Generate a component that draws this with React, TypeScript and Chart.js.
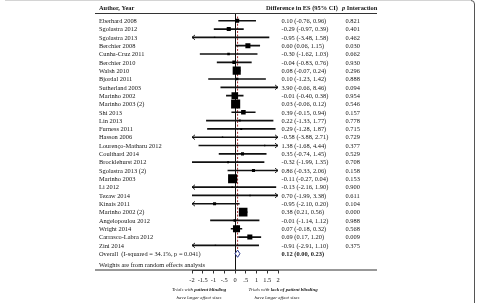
import React, { useEffect, useRef } from 'react';
import { Chart, registerables } from 'chart.js';

Chart.register(...registerables);

// ---------- data ----------
const authors = [
  'Eberhard 2008', 'Sgolastra 2012', 'Sgolastra 2013', 'Berchier 2008', 'Cunha-Cruz 2011',
  'Berchier 2010', 'Walsh 2010', 'Bjordal 2011', 'Sutherland 2003', 'Marinho 2002',
  'Marinho 2003 (2)', 'Shi 2013', 'Lin 2013', 'Furness 2011', 'Hasson 2006',
  'Lourenço-Matharu 2012', 'Coulthard 2014', 'Brocklehurst 2012', 'Sgolastra 2013 (2)', 'Marinho 2003',
  'Li 2012', 'Tezaw 2014', 'Kinais 2011', 'Marinho 2002 (2)', 'Angelopoulou 2012',
  'Wright 2014', 'Carrasco-Labra 2012', 'Zini 2014',
];
const effect = [
  0.10, -0.29, -0.95, 0.60, -0.30, -0.04, 0.08, 0.10, 3.90, -0.01,
  0.03, 0.39, 0.22, 0.29, -0.58, 1.38, 0.35, -0.32, 0.86, -0.11,
  -0.13, 0.70, -0.95, 0.38, -0.01, 0.07, 0.69, -0.91,
];
const lower = [
  -0.76, -0.97, -3.48, 0.06, -1.62, -0.83, -0.07, -1.23, -0.66, -0.40,
  -0.06, -0.15, -1.33, -1.28, -3.88, -1.68, -0.74, -1.99, -0.33, -0.27,
  -2.16, -1.99, -2.10, 0.21, -1.14, -0.18, 0.17, -2.91,
];
const upper = [
  0.96, 0.39, 1.58, 1.15, 1.03, 0.76, 0.24, 1.42, 8.46, 0.38,
  0.12, 0.94, 1.77, 1.87, 2.71, 4.44, 1.45, 1.35, 2.06, 0.04,
  1.90, 3.38, 0.20, 0.56, 1.12, 0.32, 1.20, 1.10,
];
const pInteraction = [
  '0.821', '0.401', '0.462', '0.030', '0.662', '0.930', '0.296', '0.888', '0.094', '0.954',
  '0.546', '0.157', '0.778', '0.715', '0.729', '0.377', '0.529', '0.708', '0.158', '0.153',
  '0.900', '0.611', '0.104', '0.000', '0.988', '0.568', '0.009', '0.375',
];
// estimated random-effects weights (%)
const weights = [
  3.0, 3.0, 0.4, 4.6, 1.2, 2.3, 11.9, 1.2, 0.2, 7.8,
  15.0, 3.8, 0.7, 0.7, 0.2, 0.2, 1.7, 0.7, 1.7, 15.0,
  0.4, 0.4, 1.7, 13.4, 1.2, 9.1, 4.6, 0.4,
];
const overallLabel = 'Overall  (I-squared = 34.1%, p = 0.041)';
const overallEffect = 0.12;
const overallLower = 0.0;
const overallUpper = 0.23;
const weightsNote = 'Weights are from random effects analysis';
const headers = ['Author, Year', 'Difference in ES (95% CI)', 'Interaction'];
const xTicks = [-2, -1.5, -1, -0.5, 0, 0.5, 1, 1.5, 2];
const xTickLabels = ['-2', '-1.5', '-1', '-.5', '0', '.5', '1', '1.5', '2'];
const favourLeft = ['Trials with ', 'patient blinding', 'have larger effect sizes'];
const favourRight = ['Trials with ', 'lack of patient blinding', 'have larger effect sizes'];

// ---------- layout constants ----------
const W = 477;
const H = 303;
const SERIF = '"Liberation Serif", "Times New Roman", serif';
const FS = 6.4;
const COL_AUTHOR = 99;
const COL_ES = 281.5;
const COL_P = 345.5;
const TABLE_L = 95;
const TABLE_R = 377;
const TEXT = '#161616';

const fmt = (v: number) => v.toFixed(2);
const esText = (e: number, l: number, u: number) => `${fmt(e)} (${fmt(l)}, ${fmt(u)})`;
const squareSide = (w: number) => Math.max(1.4, 2.35 * Math.sqrt(w));
const snap = (v: number) => Math.floor(v) + 0.5;

const forestPlugin = {
  id: 'forest',
  beforeDatasetsDraw(chart: any) {
    const { ctx, chartArea, scales } = chart;
    const x = scales.x;
    const y = scales.y;
    ctx.save();
    // line of no effect
    const x0 = snap(x.getPixelForValue(0));
    ctx.strokeStyle = '#111';
    ctx.lineWidth = 1;
    ctx.beginPath();
    ctx.moveTo(x0, chartArea.top);
    ctx.lineTo(x0, chartArea.bottom);
    ctx.stroke();
    // overall effect dashed line
    const xo = x.getPixelForValue(overallEffect);
    ctx.strokeStyle = '#a52a2a';
    ctx.setLineDash([2, 1.6]);
    ctx.beginPath();
    ctx.moveTo(xo, y.getPixelForValue(-0.5));
    ctx.lineTo(xo, y.getPixelForValue(authors.length - 0.45));
    ctx.stroke();
    ctx.restore();
  },
  afterDatasetsDraw(chart: any) {
    const { ctx, scales } = chart;
    const x = scales.x;
    const y = scales.y;
    ctx.save();
    ctx.strokeStyle = '#111';
    ctx.lineWidth = 0.9;
    const arrow = (tip: number, yp: number, dir: number) => {
      ctx.beginPath();
      ctx.moveTo(tip - dir * 3, yp - 2.4);
      ctx.lineTo(tip, yp);
      ctx.lineTo(tip - dir * 3, yp + 2.4);
      ctx.stroke();
    };
    authors.forEach((_, i) => {
      const yp = y.getPixelForValue(i);
      if (lower[i] < x.min) arrow(x.getPixelForValue(x.min), yp, -1);
      if (upper[i] > x.max) arrow(x.getPixelForValue(x.max), yp, 1);
    });
    // overall diamond
    const yo = y.getPixelForValue(authors.length);
    const xl = x.getPixelForValue(overallLower);
    const xr = x.getPixelForValue(overallUpper);
    const xm = x.getPixelForValue(overallEffect);
    ctx.beginPath();
    ctx.moveTo(xl, yo);
    ctx.lineTo(xm, yo - 3.6);
    ctx.lineTo(xr, yo);
    ctx.lineTo(xm, yo + 3.6);
    ctx.closePath();
    ctx.fillStyle = '#ffffff';
    ctx.fill();
    ctx.strokeStyle = '#27348b';
    ctx.lineWidth = 1;
    ctx.stroke();
    ctx.restore();
  },
  afterDraw(chart: any) {
    const { ctx, chartArea, scales } = chart;
    const y = scales.y;
    ctx.save();
    ctx.fillStyle = TEXT;
    ctx.textBaseline = 'middle';
    ctx.textAlign = 'left';
    // header
    const hy = 8.5;
    ctx.font = `bold ${FS}px ${SERIF}`;
    ctx.fillText(headers[0], COL_AUTHOR, hy);
    ctx.fillText(headers[1], 266, hy);
    ctx.font = `bold italic ${FS}px ${SERIF}`;
    ctx.fillText('p', 342, hy);
    const pw = ctx.measureText('p ').width;
    ctx.font = `bold ${FS}px ${SERIF}`;
    ctx.fillText(headers[2], 342 + pw, hy);
    // rules
    ctx.strokeStyle = '#333';
    ctx.lineWidth = 1.2;
    ctx.beginPath();
    ctx.moveTo(TABLE_L, chartArea.top);
    ctx.lineTo(TABLE_R, chartArea.top);
    ctx.moveTo(TABLE_L, chartArea.bottom);
    ctx.lineTo(TABLE_R, chartArea.bottom);
    ctx.stroke();
    // rows
    ctx.font = `${FS}px ${SERIF}`;
    authors.forEach((a, i) => {
      const yp = y.getPixelForValue(i) + 0.6;
      ctx.fillText(a, COL_AUTHOR, yp);
      ctx.fillText(esText(effect[i], lower[i], upper[i]), COL_ES, yp);
      ctx.fillText(pInteraction[i], COL_P, yp);
    });
    const yo = y.getPixelForValue(authors.length) + 0.6;
    ctx.fillText(overallLabel, COL_AUTHOR, yo);
    ctx.font = `bold ${FS}px ${SERIF}`;
    ctx.fillText(esText(overallEffect, overallLower, overallUpper), COL_ES, yo);
    ctx.font = `${FS}px ${SERIF}`;
    ctx.fillText(weightsNote, COL_AUTHOR, y.getPixelForValue(authors.length + 1.38));
    // favour labels
    const FS2 = 4.9;
    const drawFavour = (parts: string[], cx1: number, cx2: number) => {
      ctx.font = `italic ${FS2}px ${SERIF}`;
      const w1 = ctx.measureText(parts[0]).width;
      ctx.font = `bold italic ${FS2}px ${SERIF}`;
      const w2 = ctx.measureText(parts[1]).width;
      const start = cx1 - (w1 + w2) / 2;
      ctx.font = `italic ${FS2}px ${SERIF}`;
      ctx.fillText(parts[0], start, 290);
      ctx.font = `bold italic ${FS2}px ${SERIF}`;
      ctx.fillText(parts[1], start + w1, 290);
      ctx.font = `italic ${FS2}px ${SERIF}`;
      ctx.textAlign = 'center';
      ctx.fillText(parts[2], cx2, 297.3);
      ctx.textAlign = 'left';
    };
    drawFavour(favourLeft, 199, 199);
    drawFavour(favourRight, 283, 277);
    // frame
    ctx.strokeStyle = '#d4d4d4';
    ctx.lineWidth = 1;
    ctx.beginPath();
    ctx.moveTo(5, 0.5);
    ctx.lineTo(471, 0.5);
    ctx.stroke();
    ctx.strokeStyle = '#555';
    ctx.beginPath();
    ctx.moveTo(471, 0.5);
    ctx.quadraticCurveTo(474.5, 0.5, 474.5, 4);
    ctx.lineTo(474.5, H);
    ctx.stroke();
    ctx.restore();
  },
};

export default function App() {
  const ref = useRef<HTMLCanvasElement>(null);
  useEffect(() => {
    const canvas = ref.current;
    if (!canvas) return;
    const chart = new Chart(canvas, {
      type: 'scatter',
      data: {
        datasets: [
          {
            type: 'scatter',
            label: 'Effect size',
            data: effect.map((v, i) => ({ x: v, y: i })),
            pointStyle: 'rect',
            pointRadius: (c: any) => squareSide(weights[c.dataIndex] ?? 0) / Math.SQRT2,
            pointHoverRadius: (c: any) => squareSide(weights[c.dataIndex] ?? 0) / Math.SQRT2,
            backgroundColor: '#000',
            borderColor: '#000',
            borderWidth: 0,
            order: 0,
          } as any,
          {
            type: 'bar',
            label: '95% CI',
            indexAxis: 'y',
            data: lower.map((l, i) => ({ x: [l, upper[i]], y: i })),
            barThickness: 1,
            backgroundColor: '#111',
            borderWidth: 0,
            order: 1,
          } as any,
        ],
      },
      options: {
        responsive: false,
        animation: false,
        events: [],
        layout: { padding: { left: 192, right: 199, top: 13.5, bottom: 19 } },
        plugins: { legend: { display: false }, tooltip: { enabled: false } },
        scales: {
          x: {
            type: 'linear',
            position: 'bottom',
            offset: false,
            min: xTicks[0],
            max: xTicks[xTicks.length - 1],
            border: { display: true, color: '#333', width: 1 },
            grid: { display: true, offset: false, drawOnChartArea: false, drawTicks: true, tickLength: 3.5, color: '#333' },
            afterBuildTicks: (s: any) => {
              s.ticks = xTicks.map((v) => ({ value: v }));
            },
            ticks: {
              autoSkip: false,
              maxRotation: 0,
              padding: 3,
              color: TEXT,
              font: { family: SERIF, size: 6.4 },
              callback: (v: any) => {
                const k = xTicks.indexOf(Number(v));
                return k >= 0 ? xTickLabels[k] : '';
              },
            },
            afterFit: (s: any) => {
              s.height = 14;
            },
          },
          y: {
            type: 'linear',
            reverse: true,
            offset: false,
            grace: 0,
            min: -0.87,
            max: authors.length + 1.96,
            grid: { offset: false },
            display: false,
          },
        },
      } as any,
      plugins: [forestPlugin],
    });
    return () => chart.destroy();
  }, []);

  return (
    <div style={{ position: 'fixed', left: 0, top: 0, width: W, height: H, background: '#fff' }}>
      <canvas ref={ref} width={W} height={H} style={{ display: 'block', width: W, height: H }} />
    </div>
  );
}
